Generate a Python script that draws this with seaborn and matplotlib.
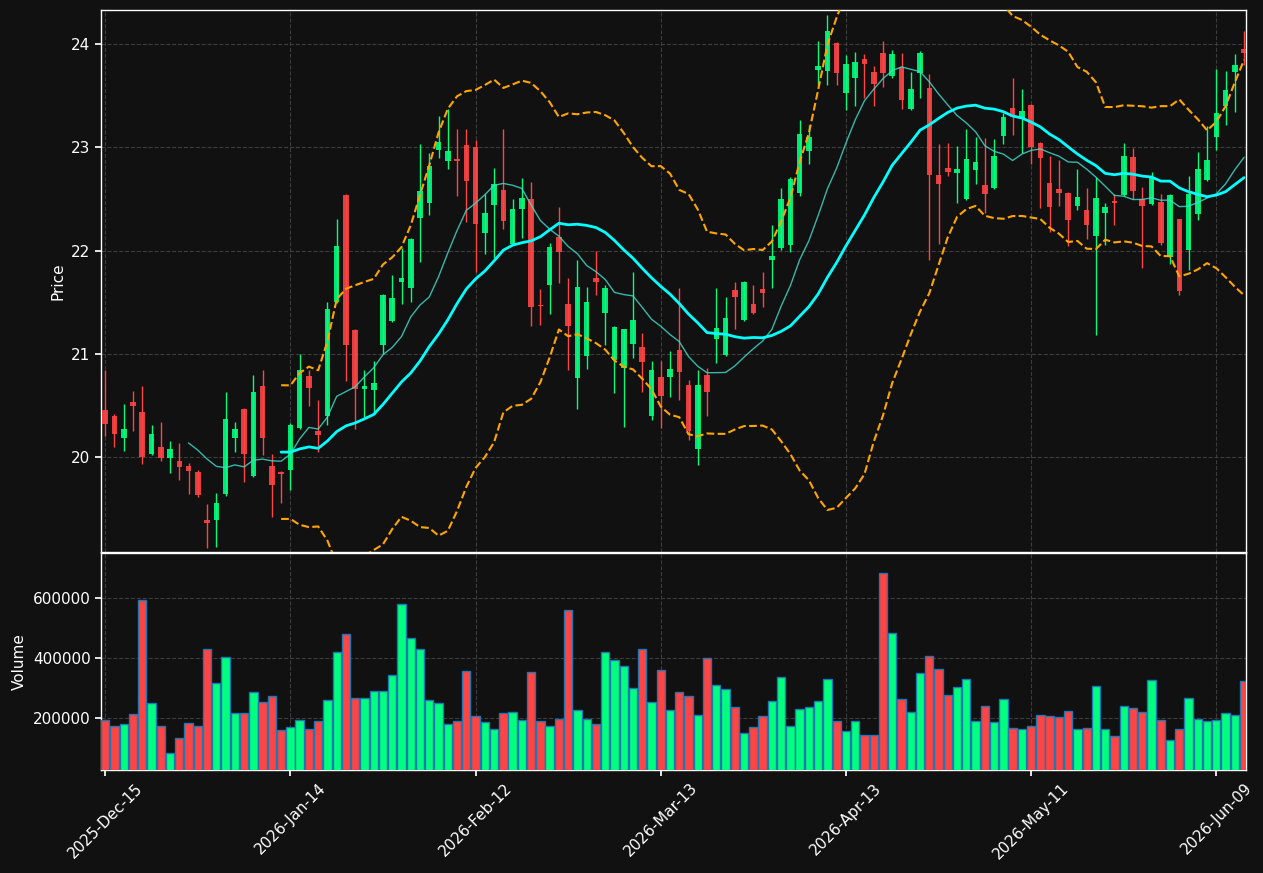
import numpy as np
import pandas as pd
import matplotlib
matplotlib.use("Agg")
import matplotlib.pyplot as plt
import seaborn as sns

# ---------------- data ----------------
opens = [20.46, 20.40, 20.19, 20.53, 20.44, 20.03, 20.10, 19.99, 19.96, 19.91,
         19.86, 19.39, 19.39, 19.64, 20.19, 20.47, 19.82, 20.69, 19.91, 19.86,
         19.88, 20.28, 20.79, 20.25, 20.40, 21.50, 22.54, 21.23, 20.66, 20.65,
         21.09, 21.32, 21.70, 21.64, 22.32, 22.46, 22.97, 22.87, 22.88, 23.02,
         23.00, 22.17, 22.44, 22.59, 22.06, 22.40, 22.50, 21.47, 21.67, 22.13,
         21.48, 20.77, 20.98, 21.73, 21.40, 20.94, 20.86, 21.10, 21.07, 20.40,
         20.78, 20.78, 21.04, 20.70, 20.08, 20.80, 21.14, 20.99, 21.62, 21.33,
         21.48, 21.63, 21.91, 22.02, 22.05, 22.56, 22.96, 23.75, 23.74, 24.01,
         23.53, 23.67, 23.85, 23.73, 23.91, 23.69, 23.78, 23.37, 23.72, 23.57,
         22.73, 22.80, 22.75, 22.50, 22.78, 22.63, 22.61, 23.11, 23.38, 23.27,
         23.41, 23.04, 22.65, 22.60, 22.56, 22.43, 22.39, 22.14, 22.36, 22.48,
         22.54, 22.91, 22.50, 22.45, 22.47, 21.94, 22.31, 22.01, 22.35, 22.68,
         23.10, 23.40, 23.73, 23.95]
highs = [20.84, 20.42, 20.51, 20.64, 20.69, 20.31, 20.34, 20.16, 20.14, 19.94,
         19.88, 19.55, 19.65, 20.63, 20.34, 20.48, 20.80, 20.84, 20.03, 19.87,
         20.33, 21.00, 20.84, 20.55, 21.50, 22.31, 22.55, 21.24, 20.84, 20.93,
         21.58, 21.76, 22.02, 22.12, 23.03, 22.94, 23.30, 23.37, 23.18, 23.18,
         23.07, 22.55, 22.80, 23.18, 22.50, 22.70, 22.66, 21.63, 22.07, 22.42,
         21.73, 21.91, 21.65, 22.00, 21.67, 21.27, 21.24, 21.79, 21.20, 20.93,
         20.93, 21.03, 21.64, 20.75, 20.84, 20.86, 21.64, 21.55, 21.70, 21.71,
         21.67, 21.79, 22.25, 22.61, 22.71, 23.26, 23.22, 24.03, 24.28, 24.02,
         23.89, 23.92, 23.90, 23.79, 24.03, 23.94, 23.91, 23.73, 23.93, 23.71,
         23.03, 23.04, 23.01, 23.18, 23.10, 23.09, 23.08, 23.33, 23.67, 23.56,
         23.42, 23.05, 22.92, 22.88, 22.57, 22.79, 22.61, 22.71, 22.46, 22.55,
         23.04, 22.99, 22.62, 22.76, 22.55, 22.55, 22.31, 22.72, 22.95, 23.21,
         23.76, 23.74, 23.90, 24.13]
lows = [20.20, 20.10, 20.06, 20.25, 19.93, 20.02, 19.96, 19.85, 19.78, 19.64,
        19.61, 19.12, 19.13, 19.62, 20.05, 19.76, 19.81, 20.02, 19.42, 19.56,
        19.68, 20.27, 20.50, 20.05, 20.31, 21.49, 20.74, 20.27, 20.39, 20.42,
        21.00, 21.31, 21.48, 21.50, 21.89, 22.34, 22.90, 22.79, 22.53, 22.28,
        21.79, 21.97, 21.93, 22.21, 22.05, 22.12, 21.27, 21.28, 21.39, 21.69,
        20.84, 20.47, 20.85, 21.57, 21.09, 20.62, 20.29, 20.96, 20.63, 20.36,
        20.28, 20.58, 20.55, 20.17, 19.92, 20.40, 20.91, 20.98, 21.24, 21.32,
        21.39, 21.45, 21.64, 22.01, 21.99, 22.53, 22.84, 23.60, 23.60, 23.60,
        23.36, 23.40, 23.48, 23.40, 23.58, 23.67, 23.37, 23.36, 23.48, 21.91,
        22.06, 22.72, 22.46, 22.49, 22.64, 22.36, 22.60, 23.03, 23.12, 22.94,
        22.84, 22.41, 22.18, 22.43, 22.04, 22.39, 22.11, 21.18, 22.05, 22.25,
        22.53, 22.50, 21.83, 22.44, 22.05, 21.87, 21.57, 21.81, 22.30, 22.67,
        22.97, 23.22, 23.34, 23.80]
closes = [20.32, 20.22, 20.27, 20.50, 20.00, 20.22, 19.99, 20.08, 19.90, 19.87,
          19.63, 19.36, 19.56, 20.37, 20.27, 20.03, 20.63, 20.19, 19.73, 19.84,
          20.31, 20.84, 20.67, 20.21, 21.43, 22.04, 21.09, 20.66, 20.69, 20.72,
          21.57, 21.54, 21.73, 22.11, 22.58, 22.82, 23.05, 22.96, 22.87, 22.67,
          22.26, 22.36, 22.64, 22.29, 22.40, 22.51, 21.45, 21.46, 22.03, 21.99,
          21.27, 21.65, 21.50, 21.70, 21.64, 21.26, 21.24, 21.33, 20.92, 20.84,
          20.59, 20.85, 20.82, 20.25, 20.70, 20.63, 21.25, 21.35, 21.55, 21.70,
          21.40, 21.59, 21.95, 22.50, 22.69, 23.13, 23.10, 23.79, 24.13, 23.72,
          23.81, 23.83, 23.81, 23.61, 23.72, 23.90, 23.46, 23.56, 23.91, 22.73,
          22.64, 22.76, 22.79, 22.89, 22.86, 22.55, 22.92, 23.29, 23.29, 23.35,
          23.00, 22.90, 22.42, 22.56, 22.30, 22.52, 22.25, 22.51, 22.42, 22.46,
          22.92, 22.58, 22.43, 22.71, 22.07, 22.54, 21.61, 22.55, 22.79, 22.88,
          23.33, 23.55, 23.80, 23.91]
volumes = [192000, 172000, 179000, 213000, 593000, 251000, 172000, 83000, 133000, 182000,
           174000, 429000, 316000, 402000, 218000, 215000, 288000, 254000, 272000, 159000,
           169000, 192000, 162000, 189000, 259000, 419000, 479000, 265000, 265000, 291000,
           291000, 344000, 579000, 466000, 429000, 259000, 251000, 179000, 190000, 358000,
           207000, 185000, 164000, 215000, 221000, 192000, 355000, 189000, 174000, 198000,
           559000, 228000, 198000, 179000, 419000, 393000, 375000, 301000, 429000, 252000,
           360000, 228000, 288000, 272000, 211000, 399000, 311000, 295000, 238000, 151000,
           171000, 208000, 256000, 335000, 174000, 231000, 238000, 256000, 329000, 189000,
           156000, 189000, 143000, 144000, 682000, 482000, 262000, 221000, 349000, 406000,
           362000, 278000, 304000, 329000, 189000, 241000, 185000, 262000, 167000, 164000,
           174000, 211000, 205000, 202000, 224000, 162000, 166000, 308000, 162000, 141000,
           241000, 234000, 221000, 326000, 192000, 128000, 164000, 265000, 195000, 189000,
           192000, 218000, 211000, 322000]
tick_labels = ["2025-Dec-15", "2026-Jan-14", "2026-Feb-12", "2026-Mar-13",
               "2026-Apr-13", "2026-May-11", "2026-Jun-09"]
tick_step = 20

# ---------------- frame ----------------
df = pd.DataFrame({"open": opens, "high": highs, "low": lows,
                   "close": closes, "volume": volumes})
df["idx"] = np.arange(len(df))
df["sma10"] = df["close"].rolling(10).mean()
df["sma20"] = df["close"].rolling(20).mean()
std20 = df["close"].rolling(20).std()
df["upper"] = df["sma20"] + 2 * std20
df["lower"] = df["sma20"] - 2 * std20
up = df["close"] >= df["open"]

UP = "#00ff7f"
DOWN = "#ff4444"
BG = "#111111"
colors = np.where(up, UP, DOWN)

sns.set_theme(style="darkgrid")
plt.rcParams.update({
    "figure.facecolor": BG, "axes.facecolor": BG, "savefig.facecolor": BG,
    "axes.edgecolor": "white", "axes.labelcolor": "white",
    "xtick.color": "white", "ytick.color": "white", "text.color": "white",
    "grid.color": "#3c3c3c", "grid.linestyle": "--", "grid.linewidth": 0.8,
    "xtick.bottom": True, "ytick.left": True,
})
plt.rcParams["font.family"] = ["DejaVu Sans"]

fig = plt.figure(figsize=(12.63, 8.73), dpi=100)
ax1 = fig.add_axes([0.080, 0.3677, 0.9065, 0.6208])
ax2 = fig.add_axes([0.080, 0.118, 0.9065, 0.2486], sharex=ax1)

# candles
ax1.vlines(df["idx"], df["low"], df["high"], colors=colors, linewidth=1.0, zorder=3)
body_bottom = np.minimum(df["open"], df["close"])
body_height = np.maximum(np.abs(df["close"] - df["open"]), 0.012)
ax1.bar(df["idx"], body_height, bottom=body_bottom, width=0.6, color=colors,
        edgecolor="none", alpha=0.9, zorder=4)

# overlays
sns.lineplot(data=df, x="idx", y="sma10", ax=ax1, color="#40e0d0", linewidth=1.0,
             alpha=0.8, zorder=5, legend=False)
sns.lineplot(data=df, x="idx", y="sma20", ax=ax1, color="#00ffff", linewidth=2.0,
             zorder=5, legend=False)
sns.lineplot(data=df, x="idx", y="upper", ax=ax1, color="#ffa500", linewidth=1.5,
             linestyle="--", zorder=5, legend=False)
sns.lineplot(data=df, x="idx", y="lower", ax=ax1, color="#ffa500", linewidth=1.5,
             linestyle="--", zorder=5, legend=False)

ax1.set_ylim(min(lows) * 0.998, max(highs) * 1.002)
ax1.set_ylabel("Price", fontsize=11)
ax1.set_xlabel("")
ax1.tick_params(axis="x", labelbottom=False)

# volume
ax2.bar(df["idx"], df["volume"], width=0.9, color=colors, edgecolor="#1f77b4",
        linewidth=1.0, zorder=3)
ax2.set_ylim(26667, max(volumes) * 1.1)
ax2.set_ylabel("Volume", fontsize=11)
ax2.set_xlabel("")
ax2.ticklabel_format(axis="y", style="plain")

ticks = np.arange(0, len(tick_labels) * tick_step, tick_step)
ax2.set_xticks(ticks)
ax2.set_xticklabels(tick_labels, rotation=45)
ax2.set_xlim(-0.45, len(df) - 0.8)

for ax in (ax1, ax2):
    ax.grid(True)
    for s in ax.spines.values():
        s.set_color("white")
        s.set_linewidth(1.0)
    ax.tick_params(colors="white", labelsize=11, length=4)

fig.savefig("out.png", dpi=100, facecolor=BG)
